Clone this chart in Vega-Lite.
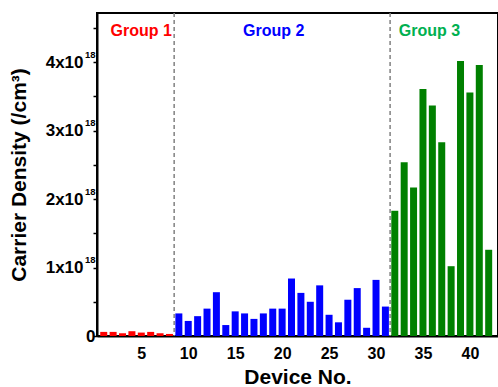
{
  "$schema": "https://vega.github.io/schema/vega-lite/v6.json",
  "autosize": "none",
  "width": 401,
  "height": 323,
  "padding": {"left": 97, "top": 13, "right": 0, "bottom": 51},
  "background": "white",
  "config": {
    "view": {"stroke": "black", "strokeWidth": 2},
    "font": "Liberation Sans",
    "axis": {"labelFont": "Liberation Sans", "titleFont": "Liberation Sans", "labelColor": "black", "titleColor": "black"}
  },
  "datasets": {
    "bars": [
      {"device": 1, "density": 6e16, "group": "Group 1"},
      {"device": 2, "density": 6e16, "group": "Group 1"},
      {"device": 3, "density": 4e16, "group": "Group 1"},
      {"device": 4, "density": 7e16, "group": "Group 1"},
      {"device": 5, "density": 5e16, "group": "Group 1"},
      {"device": 6, "density": 6e16, "group": "Group 1"},
      {"device": 7, "density": 4e16, "group": "Group 1"},
      {"device": 8, "density": 3e16, "group": "Group 1"},
      {"device": 9, "density": 3.3e17, "group": "Group 2"},
      {"device": 10, "density": 2.2e17, "group": "Group 2"},
      {"device": 11, "density": 2.9e17, "group": "Group 2"},
      {"device": 12, "density": 4.0e17, "group": "Group 2"},
      {"device": 13, "density": 6.4e17, "group": "Group 2"},
      {"device": 14, "density": 1.6e17, "group": "Group 2"},
      {"device": 15, "density": 3.6e17, "group": "Group 2"},
      {"device": 16, "density": 3.3e17, "group": "Group 2"},
      {"device": 17, "density": 2.5e17, "group": "Group 2"},
      {"device": 18, "density": 3.3e17, "group": "Group 2"},
      {"device": 19, "density": 4.0e17, "group": "Group 2"},
      {"device": 20, "density": 4.0e17, "group": "Group 2"},
      {"device": 21, "density": 8.4e17, "group": "Group 2"},
      {"device": 22, "density": 6.3e17, "group": "Group 2"},
      {"device": 23, "density": 5.0e17, "group": "Group 2"},
      {"device": 24, "density": 7.4e17, "group": "Group 2"},
      {"device": 25, "density": 3.1e17, "group": "Group 2"},
      {"device": 26, "density": 2.0e17, "group": "Group 2"},
      {"device": 27, "density": 5.3e17, "group": "Group 2"},
      {"device": 28, "density": 7.0e17, "group": "Group 2"},
      {"device": 29, "density": 1.2e17, "group": "Group 2"},
      {"device": 30, "density": 8.2e17, "group": "Group 2"},
      {"device": 31, "density": 4.3e17, "group": "Group 2"},
      {"device": 32, "density": 1.83e18, "group": "Group 3"},
      {"device": 33, "density": 2.54e18, "group": "Group 3"},
      {"device": 34, "density": 2.17e18, "group": "Group 3"},
      {"device": 35, "density": 3.61e18, "group": "Group 3"},
      {"device": 36, "density": 3.37e18, "group": "Group 3"},
      {"device": 37, "density": 2.83e18, "group": "Group 3"},
      {"device": 38, "density": 1.02e18, "group": "Group 3"},
      {"device": 39, "density": 4.02e18, "group": "Group 3"},
      {"device": 40, "density": 3.56e18, "group": "Group 3"},
      {"device": 41, "density": 3.96e18, "group": "Group 3"},
      {"device": 42, "density": 1.26e18, "group": "Group 3"}
    ],
    "dividers": [{"x": 8.5}, {"x": 31.5}],
    "labels": [
      {"label": "Group 1", "x": 5.0, "y": 4.45e18},
      {"label": "Group 2", "x": 19.1, "y": 4.45e18},
      {"label": "Group 3", "x": 35.7, "y": 4.45e18}
    ]
  },
  "layer": [
    {
      "data": {"name": "bars"},
      "mark": {"type": "bar", "size": 7, "clip": true},
      "encoding": {
        "x": {
          "field": "device", "type": "quantitative",
          "scale": {"domain": [0.815, 42.46], "nice": false, "zero": false},
          "axis": {
            "values": [5, 10, 15, 20, 25, 30, 35, 40],
            "labelFontSize": 16, "labelFontWeight": "bold",
            "ticks": false, "labelPadding": 9,
            "domainColor": "black", "domainWidth": 2, "grid": false,
            "title": "Device No.", "titleFontSize": 21, "titleFontWeight": "bold", "titlePadding": 5
          }
        },
        "y": {
          "field": "density", "type": "quantitative",
          "scale": {"domain": [0, 4.72e18], "nice": false},
          "axis": {
            "orient": "left",
            "values": [0, 5e17, 1e18, 1.5e18, 2e18, 2.5e18, 3e18, 3.5e18, 4e18, 4.5e18],
            "labelExpr": "datum.value == 0 ? '0' : (datum.value % 1e18 == 0 ? format(datum.value / 1e18, 'd') + 'x10' : '')",
            "labelFontSize": 17, "labelFontWeight": "bold",
            "labelPadding": {"condition": {"test": "datum.value == 0", "value": -2}, "value": 10},
            "tickSize": 4, "tickColor": "black", "tickWidth": 1.5,
            "domainColor": "black", "domainWidth": 2, "grid": false,
            "title": "Carrier Density (/cm³)", "titleFontSize": 21, "titleFontWeight": "bold", "titlePadding": 16
          }
        },
        "color": {
          "field": "group", "type": "nominal",
          "scale": {"domain": ["Group 1", "Group 2", "Group 3"], "range": ["#ff0000", "#0000ff", "#008000"]},
          "legend": null
        }
      }
    },
    {
      "data": {"name": "bars"},
      "mark": {"type": "bar", "size": 7, "opacity": 0, "clip": true},
      "encoding": {
        "x": {"field": "device", "type": "quantitative"},
        "y": {
          "field": "density", "type": "quantitative",
          "axis": {
            "orient": "left",
            "values": [1e18, 2e18, 3e18, 4e18],
            "labelExpr": "'18'",
            "labelFontSize": 9.5, "labelFontWeight": "bold",
            "labelPadding": 2, "labelBaseline": "alphabetic", "labelOffset": -5,
            "ticks": false, "domain": false, "grid": false, "title": null
          }
        }
      }
    },
    {
      "data": {"name": "dividers"},
      "mark": {"type": "rule", "color": "#808080", "strokeDash": [4, 3], "strokeWidth": 1.5},
      "encoding": {"x": {"field": "x", "type": "quantitative"}}
    },
    {
      "data": {"name": "labels"},
      "mark": {"type": "text", "fontSize": 16, "fontWeight": "bold", "font": "Liberation Sans", "baseline": "middle"},
      "encoding": {
        "x": {"field": "x", "type": "quantitative"},
        "y": {"field": "y", "type": "quantitative", "axis": null},
        "text": {"field": "label"},
        "color": {
          "field": "label", "type": "nominal",
          "scale": {"domain": ["Group 1", "Group 2", "Group 3"], "range": ["#ff0000", "#0000ff", "#00b050"]},
          "legend": null
        }
      }
    }
  ],
  "resolve": {"scale": {"color": "independent"}, "axis": {"y": "independent"}}
}
